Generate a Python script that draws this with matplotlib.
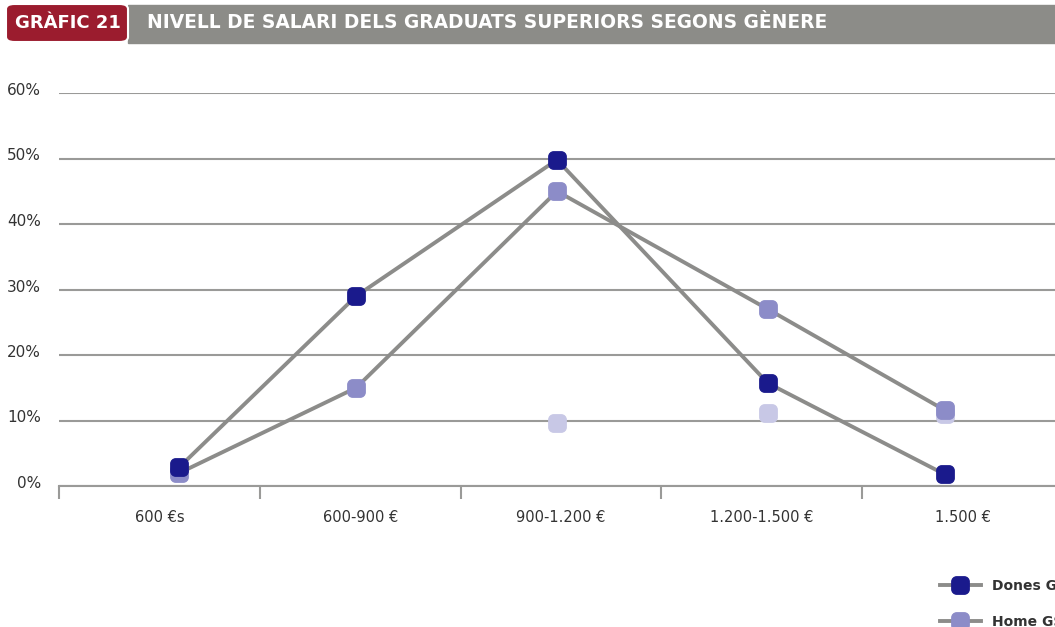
import numpy as np
import matplotlib.pyplot as plt
import matplotlib.transforms as mtransforms
from matplotlib.path import Path
from matplotlib.patches import FancyBboxPatch, Rectangle
from matplotlib.lines import Line2D

plt.rcParams['font.family'] = ['DejaVu Sans']

# Dades
categories = ["600 €s", "600-900 €", "900-1.200 €", "1.200-1.500 €", "1.500 €"]
point_x = [0.1, 0.98, 1.98, 3.03, 3.91]
dones = [2.9, 29.0, 49.8, 15.7, 1.8]
home = [2.0, 15.0, 45.0, 27.0, 11.6]
tercera = [np.nan, np.nan, 9.6, 11.1, 11.0]
yticks = [0, 10, 20, 30, 40, 50, 60]

# Marcador quadrat arrodonit
r = 0.28
c = 0.5
k = 0.55 * r
verts = [
    (-c + r, -c), (c - r, -c), (c - r + k, -c), (c, -c + r - k), (c, -c + r),
    (c, c - r), (c, c - r + k), (c - r + k, c), (c - r, c),
    (-c + r, c), (-c + r - k, c), (-c, c - r + k), (-c, c - r),
    (-c, -c + r), (-c, -c + r - k), (-c + r - k, -c), (-c + r, -c), (-c + r, -c),
]
codes = [Path.MOVETO, Path.LINETO, Path.CURVE4, Path.CURVE4, Path.CURVE4,
         Path.LINETO, Path.CURVE4, Path.CURVE4, Path.CURVE4,
         Path.LINETO, Path.CURVE4, Path.CURVE4, Path.CURVE4,
         Path.LINETO, Path.CURVE4, Path.CURVE4, Path.CURVE4, Path.CLOSEPOLY]
rsq = Path(verts, codes)

fig = plt.figure(figsize=(10.55, 6.27), dpi=100)
ax = fig.add_axes([59 / 1055, 1 - 486 / 627, (1063 - 59) / 1055, (486 - 93) / 627])

line_col = "#8c8c8a"
ax.plot(point_x, tercera, linestyle="none", marker=rsq, markersize=12.5,
        color="#c8c8e6", zorder=3)
ax.plot(point_x, home, color=line_col, lw=2.8, marker=rsq, markersize=12.5,
        markerfacecolor="#8c8cc8", markeredgecolor="#8c8cc8", zorder=4)
ax.plot(point_x, dones, color=line_col, lw=2.8, marker=rsq, markersize=12.5,
        markerfacecolor="#1a1a8c", markeredgecolor="#1a1a8c", zorder=5)

ax.set_xlim(-0.5, 4.5)
ax.set_ylim(0, 60)
ax.set_yticks(yticks)
ax.set_yticklabels([f"{v}%" for v in yticks])
ax.grid(axis="y", color="#9a9a98", lw=1.5)
ax.set_axisbelow(True)
for s in ["top", "right", "left"]:
    ax.spines[s].set_visible(False)
ax.spines["bottom"].set_color("#9a9a98")
ax.spines["bottom"].set_linewidth(1.5)
ax.tick_params(axis="y", length=0, pad=13, labelsize=11, labelcolor="#333333")
shift = mtransforms.ScaledTranslation(0, 4 / 100, fig.dpi_scale_trans)
for lab in ax.get_yticklabels():
    lab.set_transform(lab.get_transform() + shift)

ax.set_xticks(np.arange(len(categories)))
ax.set_xticklabels(categories)
ax.set_xticks(np.arange(-0.5, 4.6, 1), minor=True)
ax.tick_params(axis="x", which="major", length=0, pad=17, labelsize=10.5, labelcolor="#333333")
ax.tick_params(axis="x", which="minor", length=9, width=1.5, color="#9a9a98", direction="out")

# Capçalera
fig.patches.append(Rectangle((128 / 1055, 1 - 43 / 627), 1, 38 / 627,
                             transform=fig.transFigure, color="#8c8c88", zorder=1))
fig.patches.append(FancyBboxPatch((6 / 1055, 1 - 42 / 627), 122 / 1055, 38 / 627,
                                  boxstyle="round,pad=0,rounding_size=0.008",
                                  transform=fig.transFigure, facecolor="#9b1c2e",
                                  edgecolor="white", lw=1.5, zorder=2))
fig.text(68 / 1055, 1 - 23 / 627, "GRÀFIC 21", color="white", fontsize=13,
         fontweight="bold", ha="center", va="center", zorder=3)
fig.text(147 / 1055, 1 - 23 / 627, "NIVELL DE SALARI DELS GRADUATS SUPERIORS SEGONS GÈNERE",
         color="white", fontsize=13.4, fontweight="bold", ha="left", va="center", zorder=3)

# Llegenda
handles = [
    Line2D([], [], color=line_col, lw=2.8, marker=rsq, markersize=12.5,
           markerfacecolor="#1a1a8c", markeredgecolor="#1a1a8c"),
    Line2D([], [], color=line_col, lw=2.8, marker=rsq, markersize=12.5,
           markerfacecolor="#8c8cc8", markeredgecolor="#8c8cc8"),
]
fig.legend(handles, ["Dones GS", "Home GS"], loc="upper left",
           bbox_to_anchor=(927 / 1055, 1 - 566 / 627), frameon=False,
           handlelength=3.0, handletextpad=0.8, labelspacing=1.6,
           prop={"size": 10, "weight": "bold"}, labelcolor="#333333")

fig.savefig("out.png", dpi=100)
